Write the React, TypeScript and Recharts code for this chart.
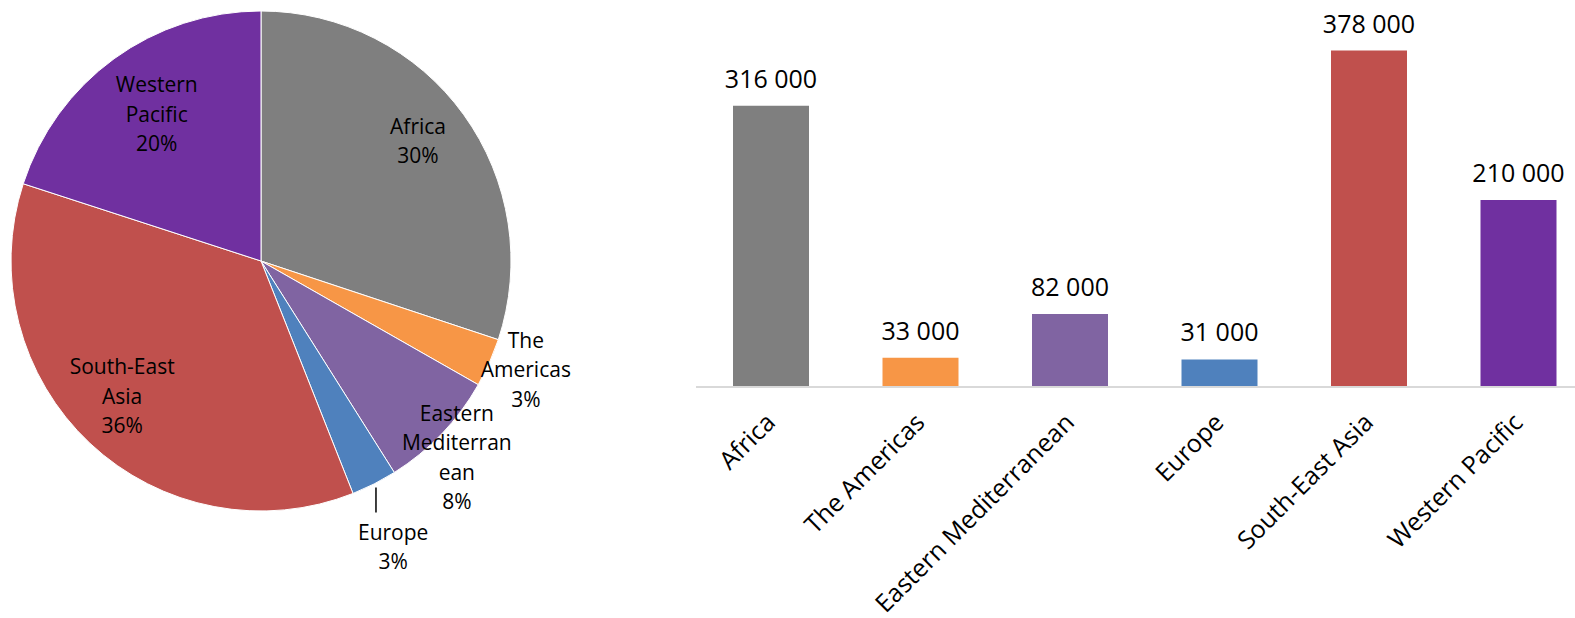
import { PieChart, Pie, Cell, BarChart, Bar, XAxis, YAxis, LabelList } from 'recharts';

const regions = ['Africa', 'The Americas', 'Eastern Mediterranean', 'Europe', 'South-East Asia', 'Western Pacific'];
const cases = [316000, 33000, 82000, 31000, 378000, 210000];
const colors = ['#7F7F7F', '#F79646', '#8064A2', '#4F81BD', '#C0504D', '#7030A0'];

// how the pie labels wrap, as in the original
const pieLabelLines = [
  ['Africa'],
  ['The', 'Americas'],
  ['Eastern', 'Mediterran', 'ean'],
  ['Europe'],
  ['South-East', 'Asia'],
  ['Western', 'Pacific'],
];

// label placement: distance from center (x outer radius) and angle nudge in degrees
const pieLabelPlace = [
  { r: 0.79, shift: 1.5 },
  { r: 1.145, shift: 1.7 },
  { r: 1.11, shift: -1.4 },
  { r: 1.26, shift: -2.1 },
  { r: 0.776, shift: -2.5 },
  { r: 0.72, shift: -0.6 },
];

const data = regions.map((name, i) => ({ name, value: cases[i] }));

const FONT = '"Open Sans", sans-serif';
const RAD = Math.PI / 180;

function fmt(v: number) {
  return String(v).replace(/\B(?=(\d{3})+(?!\d))/g, ' ');
}

function PieLabel(props: any) {
  const { cx, cy, midAngle, outerRadius, percent, index } = props;
  const place = pieLabelPlace[index];
  const ang = (midAngle + place.shift) * RAD;
  const x = cx + outerRadius * place.r * Math.cos(ang);
  const y = cy - outerRadius * place.r * Math.sin(ang);
  const lines = [...pieLabelLines[index], `${Math.round(percent * 100)}%`];
  const lh = 29.5;
  const first = y + 7.5 - ((lines.length - 1) / 2) * lh;
  let leader = null;
  if (regions[index] === 'Europe') {
    const px = cx + (outerRadius + 4) * Math.cos(midAngle * RAD);
    const py = cy - (outerRadius + 4) * Math.sin(midAngle * RAD);
    const endY = y - (lines.length * lh) / 2 - 5;
    leader = <line x1={px} y1={py} x2={px} y2={endY} stroke="#000" strokeWidth={1.5} />;
  }
  return (
    <g>
      {leader}
      <text x={x} y={first} textAnchor="middle" fontSize={21} fill="#000" fontFamily={FONT}>
        {lines.map((l, i) => (
          <tspan key={i} x={x} dy={i === 0 ? 0 : lh}>
            {l}
          </tspan>
        ))}
      </text>
    </g>
  );
}

function RotatedTick(props: any) {
  const { x, y, payload } = props;
  const ax = x + 6;
  const ay = y + 37;
  return (
    <text
      x={ax}
      y={ay}
      textAnchor="end"
      fontSize={25}
      fill="#000"
      fontFamily={FONT}
      transform={`rotate(-45, ${ax}, ${ay})`}
    >
      {payload.value}
    </text>
  );
}

export default function App() {
  return (
    <div
      style={{
        position: 'fixed',
        left: 0,
        top: 0,
        width: 1575,
        height: 618,
        overflow: 'hidden',
        background: '#fff',
        fontFamily: FONT,
      }}
    >
      <div style={{ position: 'absolute', left: 0, top: 0 }}>
        <PieChart width={620} height={618} margin={{ top: 0, right: 0, bottom: 0, left: 0 }}>
          <Pie
            data={data}
            dataKey="value"
            nameKey="name"
            cx={261}
            cy={261}
            outerRadius={250}
            startAngle={90}
            endAngle={-270}
            stroke="#fff"
            strokeWidth={1}
            label={PieLabel}
            labelLine={false}
            isAnimationActive={false}
          >
            {data.map((d, i) => (
              <Cell key={d.name} fill={colors[i]} />
            ))}
          </Pie>
        </PieChart>
      </div>
      <div style={{ position: 'absolute', left: 696, top: 0 }}>
        <BarChart width={897} height={618} data={data} margin={{ top: 31, right: 0, bottom: 0, left: 0 }}>
          <XAxis
            dataKey="name"
            height={231}
            interval={0}
            tickLine={false}
            tickSize={0}
            tickMargin={0}
            axisLine={{ stroke: '#D9D9D9', strokeWidth: 2 }}
            tick={RotatedTick}
          />
          <YAxis hide domain={[0, 400000]} />
          <Bar dataKey="value" barSize={76} isAnimationActive={false}>
            {data.map((d, i) => (
              <Cell key={d.name} fill={colors[i]} />
            ))}
            <LabelList
              dataKey="value"
              position="top"
              offset={18}
              formatter={(v: any) => fmt(Number(v))}
              style={{ fontSize: 25, fill: '#000', fontFamily: FONT }}
            />
          </Bar>
        </BarChart>
      </div>
    </div>
  );
}
